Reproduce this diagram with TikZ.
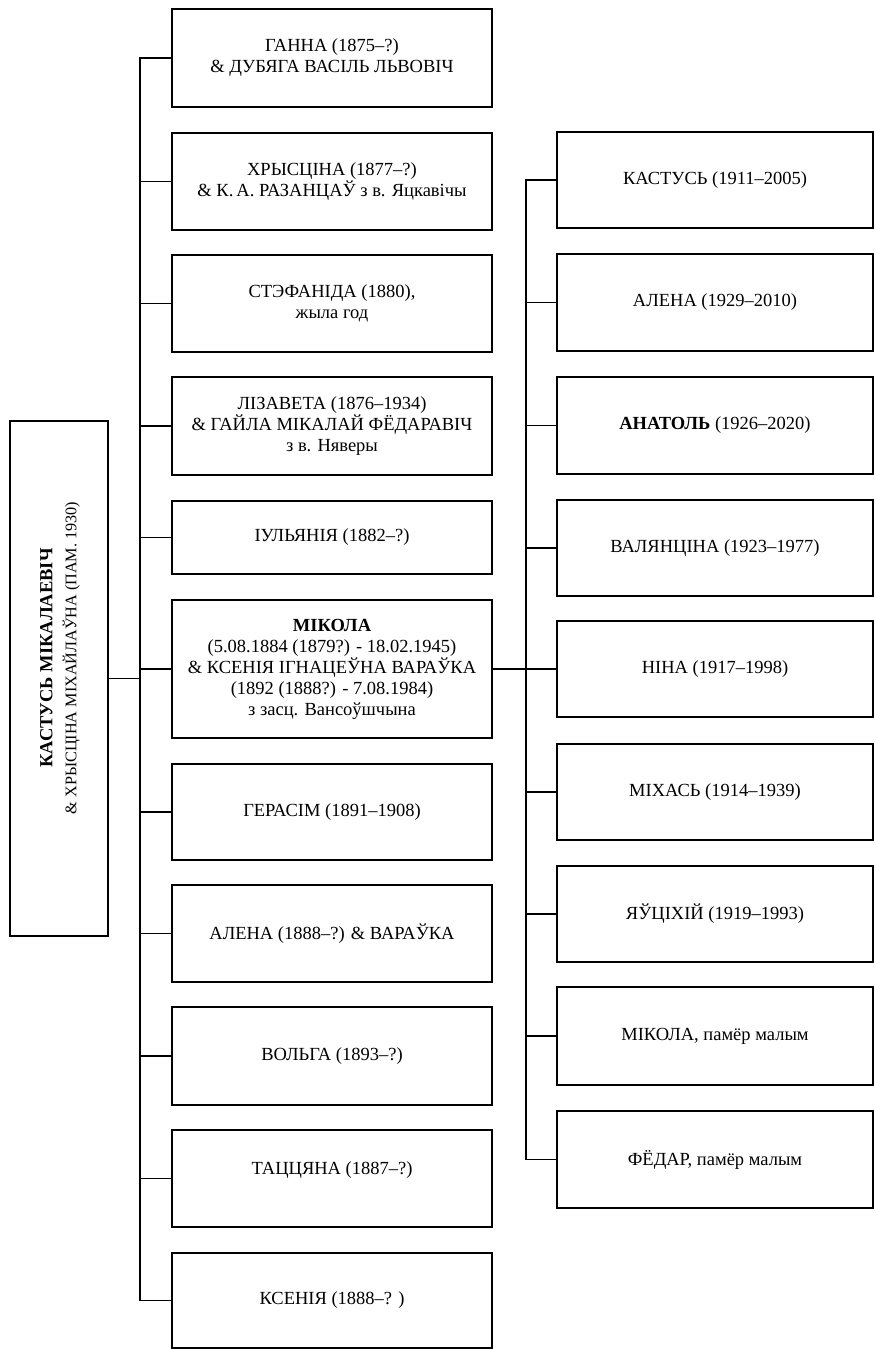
\documentclass[tikz,border=0pt]{standalone}
\usepackage{fontspec}
\setmainfont{Liberation Serif}

\begin{document}
\begin{tikzpicture}[x=1pt,y=-1pt,line width=1.5pt]
        \useasboundingbox (0,0) rectangle (875,1349);

        \tikzstyle{box}=[draw, rectangle, inner sep=0pt, align=center,
                        font=\fontsize{18.5}{21}\selectfont]
        \tikzstyle{child}=[box, minimum width=320pt, minimum height=97pt]
        \tikzstyle{grandchild}=[box, minimum width=316pt, minimum height=97pt]

        \coordinate (trunkl) at (140,0);
        \coordinate (trunkr) at (526,0);

        % parents
        \node[box, minimum width=98pt, minimum height=515pt] (root) at (59,678.5) {};
        \node[rotate=90, align=center, font=\fontsize{18.5}{24}\selectfont] (rootname) at (60,658)
             {\textbf{КАСТУСЬ МІКАЛАЕВІЧ}\\{\fontsize{16.2}{20}\selectfont\& ХРЫСЦІНА МІХАЙЛАЎНА (ПАМ. 1930)}};

        % children
        \node[child, minimum height=98pt] (ganna) at (332,58) {ГАННА (1875–?)\\\& ДУБЯГА ВАСІЛЬ ЛЬВОВІЧ};
        \node[child] (khrys) at (332,181.5) {ХРЫСЦІНА (1877–?)\\\& К.\,А. РАЗАНЦАЎ з в. Яцкавічы};
        \node[child] (stef) at (332,303.5) {СТЭФАНІДА (1880),\\жыла год};
        \node[child, minimum height=98pt] (liz) at (332,426) {ЛІЗАВЕТА (1876–1934)\\\& ГАЙЛА МІКАЛАЙ ФЁДАРАВІЧ\\з в. Няверы};
        \node[child, minimum height=73pt] (iul) at (332,537.5) {ІУЛЬЯНІЯ (1882–?)};
        \node[child, minimum height=138pt] (mikola) at (332,669) {\textbf{МІКОЛА}\\(5.08.1884 (1879?) - 18.02.1945)\\\& КСЕНІЯ ІГНАЦЕЎНА ВАРАЎКА\\(1892 (1888?) - 7.08.1984)\\з засц. Вансоўшчына};
        \node[child, minimum height=96pt] (geras) at (332,812) {ГЕРАСІМ (1891–1908)};
        \node[child] (alena) at (332,933.5) {АЛЕНА (1888–?) \& ВАРАЎКА};
        \node[child, minimum height=98pt] (volha) at (332,1056) {ВОЛЬГА (1893–?)};
        \node[child] (tatc) at (332,1178.5) {ТАЦЦЯНА (1887–?)\\\mbox{}};
        \node[child, minimum height=95pt] (ksen) at (332,1300.5) {КСЕНІЯ (1888–? )};

        % grandchildren
        \node[grandchild, minimum height=96pt] (kastus) at (715,180) {КАСТУСЬ (1911–2005)};
        \node[grandchild] (alenam) at (715,302.5) {АЛЕНА (1929–2010)};
        \node[grandchild] (anatol) at (715,425.5) {\textbf{АНАТОЛЬ} (1926–2020)};
        \node[grandchild, minimum height=96pt] (valia) at (715,548) {ВАЛЯНЦІНА (1923–1977)};
        \node[grandchild, minimum height=96pt] (nina) at (715,669) {НІНА (1917–1998)};
        \node[grandchild, minimum height=96pt] (mikhas) at (715,792) {МІХАСЬ (1914–1939)};
        \node[grandchild, minimum height=96pt] (iauts) at (715,914) {ЯЎЦІХІЙ (1919–1993)};
        \node[grandchild, minimum height=98pt] (mikolam) at (715,1036) {МІКОЛА, памёр малым};
        \node[grandchild] (fiodar) at (715,1159.5) {ФЁДАР, памёр малым};

        % connectors
        \draw (root.east) -- (root.east -| trunkl);
        \draw (ganna.west) -- (ganna.west -| trunkl) -- (ksen.west -| trunkl) -- (ksen.west);
        \foreach \n in {khrys,stef,liz,iul,mikola,geras,alena,volha,tatc}
            \draw (\n.west) -- (\n.west -| trunkl);

        \draw (mikola.east) -- (mikola.east -| trunkr);
        \draw (kastus.west) -- (kastus.west -| trunkr) -- (fiodar.west -| trunkr) -- (fiodar.west);
        \foreach \n in {alenam,anatol,valia,nina,mikhas,iauts,mikolam}
            \draw (\n.west) -- (\n.west -| trunkr);

\end{tikzpicture}
\end{document}
